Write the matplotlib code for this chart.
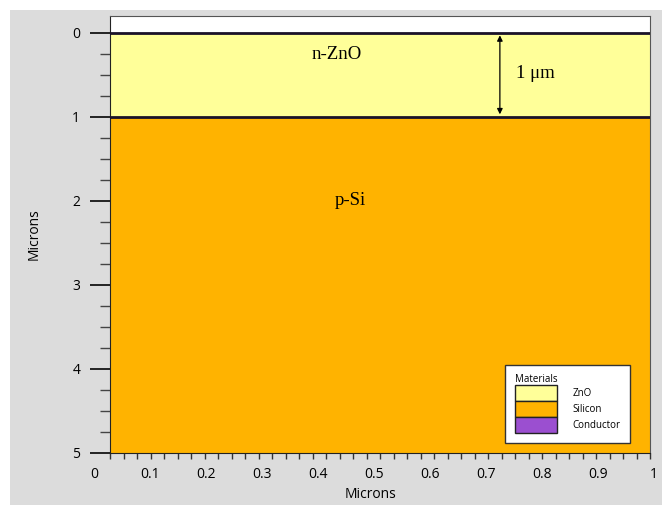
import matplotlib.pyplot as plt
from matplotlib.patches import Patch, Rectangle

# layer stack (microns)
layer_names = ["n-ZnO", "p-Si"]
layer_top = [0.0, 1.0]
layer_bottom = [1.0, 5.0]
layer_colors = ["#ffff99", "#ffb300"]
layer_label_x = [0.42, 0.445]
layer_label_y = [0.26, 2.0]

# legend
materials = ["ZnO", "Silicon", "Conductor"]
material_colors = ["#ffff99", "#ffb300", "#9b4fd0"]

# thickness marker
arrow_x = 0.722
arrow_span = [0.03, 0.97]
arrow_text = "1 μm"

x_ticks = [0, 0.1, 0.2, 0.3, 0.4, 0.5, 0.6, 0.7, 0.8, 0.9, 1]
x_labels = ["0", "0.1", "0.2", "0.3", "0.4", "0.5", "0.6", "0.7", "0.8", "0.9", "1"]
y_ticks = [0, 1, 2, 3, 4, 5]

plt.rcParams['font.family'] = ['Open Sans', 'DejaVu Sans']

fig = plt.figure(figsize=(6.62, 5.13), dpi=100, facecolor="white")
fig.patches.append(Rectangle((10 / 662, 8 / 513), 652 / 662, 495 / 513,
                             transform=fig.transFigure, facecolor="#dcdcdc",
                             edgecolor="none", zorder=-10))

ax = fig.add_axes([110 / 662, 60 / 513, 540 / 662, 437 / 513])
ax.set_facecolor("white")

for top, bottom, c in zip(layer_top, layer_bottom, layer_colors):
    ax.fill_between([0, 1], top, bottom, color=c, lw=0)
for b in layer_top:
    ax.axhline(b, color="#1a1228", lw=2, zorder=3)

for name, lx, ly in zip(layer_names, layer_label_x, layer_label_y):
    ax.text(lx, ly, name, family="Liberation Serif", fontsize=13.5,
            ha="center", va="center")

ax.annotate("", xy=(arrow_x, arrow_span[0]), xytext=(arrow_x, arrow_span[1]),
            arrowprops=dict(arrowstyle="<|-|>", color="black", lw=0.9,
                            mutation_scale=8, shrinkA=0, shrinkB=0))
ax.text(arrow_x + 0.03, 0.48, arrow_text, family="Liberation Serif",
        fontsize=13.5, ha="left", va="center")

ax.set_xlim(0, 1)
ax.set_ylim(5, -0.2)

ax.set_yticks(y_ticks)
ax.set_yticks([i * 0.25 for i in range(21)], minor=True)
ax.tick_params(axis="y", which="major", length=14.4, width=1.4, pad=7,
               labelsize=10, color="#222222")
ax.tick_params(axis="y", which="minor", length=7.5, width=1, color="#444444")

ax.set_xticks([i * 0.025 for i in range(41)])
ax.set_xticklabels([])
ax.tick_params(axis="x", which="major", length=4.5, width=1, color="#333333")

# tick labels of the x axis sit on a slightly wider scale than the frame
lab = fig.add_axes([94 / 662, 60 / 513, 560 / 662, 0.001], frameon=False)
lab.set_xlim(0, 1)
lab.set_xticks(x_ticks)
lab.set_xticklabels(x_labels)
lab.set_yticks([])
lab.tick_params(length=0, pad=10, labelsize=10)

fig.text(370 / 662, 1 - 495 / 513, "Microns", fontsize=10,
         ha="center", va="center")
ax.set_ylabel("Microns", fontsize=10, labelpad=22)

ax.spines["left"].set_color("#222222")
ax.spines["bottom"].set_color("#222222")
ax.spines["top"].set_color("#555555")
ax.spines["right"].set_color("#555555")

handles = [Patch(facecolor=c, edgecolor="#222222", lw=1) for c in material_colors]
leg = ax.legend(handles, materials, title="Materials", loc="lower right",
                bbox_to_anchor=(0.963, 0.023), borderaxespad=0, fontsize=7,
                title_fontsize=7, handlelength=4.3, handleheight=2.15,
                labelspacing=0, handletextpad=1.6, fancybox=False,
                framealpha=1, edgecolor="#333333", alignment="left",
                borderpad=1.0)
leg.get_frame().set_linewidth(1)

fig.savefig("out.png", dpi=100, facecolor="white")
